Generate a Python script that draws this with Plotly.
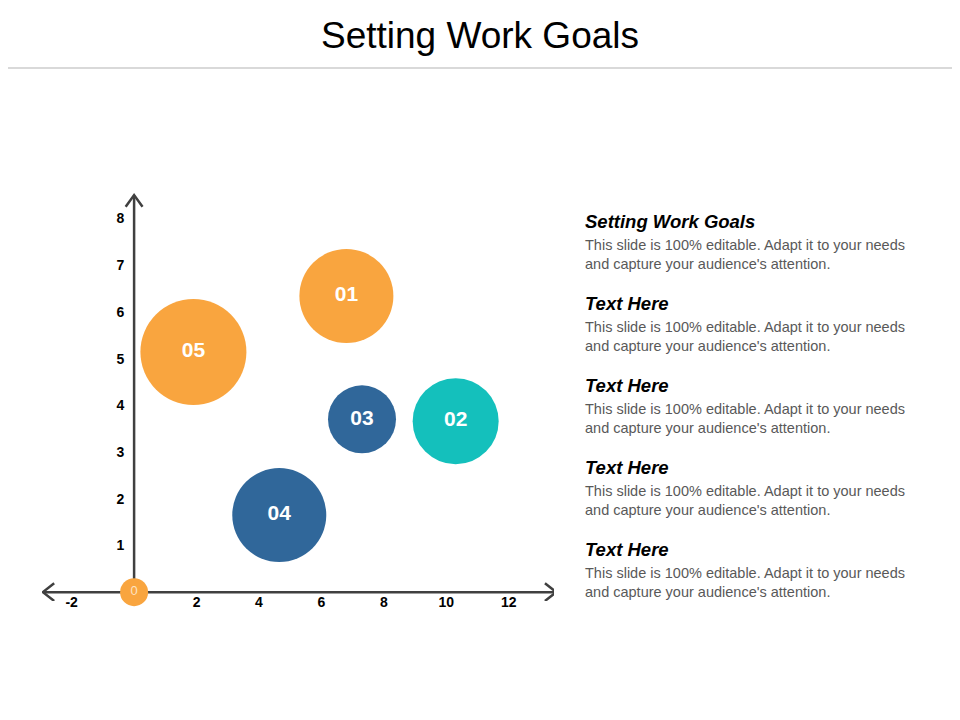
import plotly.graph_objects as go

# bubble data
labels = ["01", "02", "03", "04", "05"]
x_vals = [6.8, 10.3, 7.3, 4.65, 1.9]
y_vals = [6.34, 3.66, 3.70, 1.65, 5.14]
sizes = [94, 86, 68, 94, 106]
colors = ["#F9A53F", "#14C0BC", "#30679A", "#30679A", "#F9A53F"]

x_ticks = [-2, 2, 4, 6, 8, 10, 12]
y_ticks = [1, 2, 3, 4, 5, 6, 7, 8]

headings = ["Setting Work Goals", "Text Here", "Text Here", "Text Here", "Text Here"]
body = "This slide is 100% editable. Adapt it to your needs<br>and capture your audience's attention."

FONT = "Liberation Sans, Arial, sans-serif"
AXIS_COL = "#404040"
OFF = 8  # page body margin

# plot area in pixels: left 42, right 554, top 190, bottom 601 (screen)
L, T = 42 - OFF, 190 - OFF
R, B = 960 - (554 - OFF), 720 - (601 - OFF)
PW, PH = 960 - L - R, 720 - T - B


def px_x(p):
    return (p - OFF - L) / PW


def px_y(p):
    return (720 - B - (p - OFF)) / PH


fig = go.Figure()

# axis lines (below the bubbles)
X0, X1, YTOP = -2.92, 13.52, 8.5
fig.add_shape(type="line", x0=X0, x1=X1, y0=0, y1=0, layer="below",
              line=dict(color=AXIS_COL, width=2.5))
fig.add_shape(type="line", x0=0, x1=0, y0=0, y1=YTOP, layer="below",
              line=dict(color=AXIS_COL, width=2.5))
# chevron arrow heads
dx, dy = 0.36, 0.19
fig.add_shape(type="path", layer="below", line=dict(color=AXIS_COL, width=2.5),
              path=f"M {X1 - dx},{dy} L {X1},0 L {X1 - dx},{-dy}")
fig.add_shape(type="path", layer="below", line=dict(color=AXIS_COL, width=2.5),
              path=f"M {X0 + dx},{dy} L {X0},0 L {X0 + dx},{-dy}")
fig.add_shape(type="path", layer="below", line=dict(color=AXIS_COL, width=2.5),
              path=f"M {-0.27},{YTOP - 0.25} L 0,{YTOP} L {0.27},{YTOP - 0.25}")

fig.add_trace(go.Scatter(
    x=x_vals, y=y_vals, mode="markers+text",
    text=["<b>%s</b>" % s for s in labels],
    textposition="middle center",
    textfont=dict(color="white", size=21, family=FONT),
    marker=dict(size=sizes, color=colors, opacity=1, line=dict(width=0)),
    hoverinfo="skip", cliponaxis=False,
))

# origin marker
fig.add_trace(go.Scatter(
    x=[0], y=[0], mode="markers+text", text=["0"],
    textposition="middle center",
    textfont=dict(color="#FDE3C2", size=13, family=FONT),
    marker=dict(size=28, color="#F9A53F", line=dict(width=0)),
    hoverinfo="skip", cliponaxis=False,
))

# right-hand text blocks
for i, h in enumerate(headings):
    fig.add_annotation(x=px_x(583), y=px_y(221 + 82 * i), xref="paper", yref="paper",
                       xanchor="left", yanchor="middle", showarrow=False,
                       text=h, font=dict(size=18.5, color="black", family=FONT,
                                         weight="bold", style="italic"))
    fig.add_annotation(x=px_x(583), y=px_y(254 + 82 * i), xref="paper", yref="paper",
                       xanchor="left", yanchor="middle", showarrow=False, align="left",
                       text=body, font=dict(size=14.5, color="#595959", family=FONT))

# header rule
fig.add_shape(type="line", xref="paper", yref="paper",
              x0=px_x(0), x1=px_x(968), y0=px_y(68), y1=px_y(68),
              line=dict(color="#D9D9D9", width=2))

fig.update_layout(
    width=960, height=720,
    margin=dict(l=L, r=R, t=T, b=B),
    paper_bgcolor="white", plot_bgcolor="white",
    showlegend=False,
    title=dict(text="Setting Work Goals", x=(480 - OFF) / 960, xanchor="center",
               y=1 - (35 - OFF) / 720, yanchor="middle",
               font=dict(size=37, color="black", family=FONT)),
    xaxis=dict(range=[-2.95, 13.45], tickvals=x_ticks,
               ticktext=[str(v) for v in x_ticks], showgrid=False,
               zeroline=False, showline=False, anchor="free",
               position=px_y(592), ticks="",
               tickfont=dict(size=14, color="black", family=FONT, weight="bold")),
    yaxis=dict(range=[-0.19, 8.61], tickvals=y_ticks, showgrid=False,
               zeroline=False, showline=False, anchor="free",
               position=px_x(133), ticks="outside", ticklen=6, tickcolor="rgba(0,0,0,0)",
               tickfont=dict(size=14, color="black", family=FONT, weight="bold")),
)

fig.write_html("out.html")
